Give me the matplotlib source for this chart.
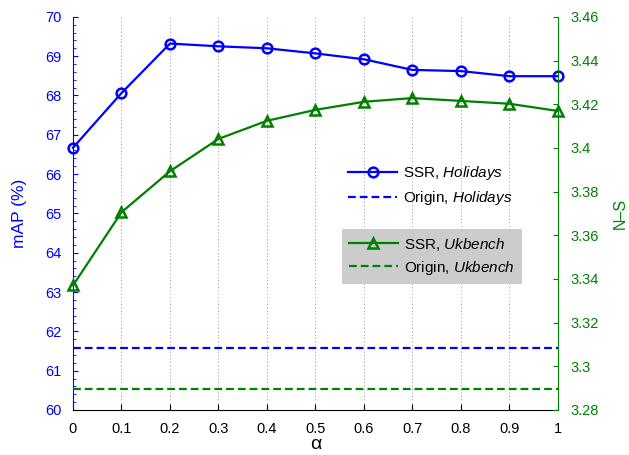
import matplotlib.pyplot as plt
from matplotlib.ticker import MultipleLocator, AutoMinorLocator

plt.rcParams['font.family'] = ['Liberation Sans', 'DejaVu Sans']
plt.rcParams['mathtext.fontset'] = 'custom'
plt.rcParams['mathtext.it'] = 'Liberation Sans:italic'
plt.rcParams['mathtext.rm'] = 'Liberation Sans'

ALPHA = [0, 0.1, 0.2, 0.3, 0.4, 0.5, 0.6, 0.7, 0.8, 0.9, 1.0]
ALPHA_LABELS = ['0', '0.1', '0.2', '0.3', '0.4', '0.5', '0.6', '0.7', '0.8', '0.9', '1']
SSR_HOLIDAYS = [66.67, 68.06, 69.32, 69.25, 69.20, 69.07, 68.92, 68.65, 68.62, 68.49, 68.49]
ORIGIN_HOLIDAYS = 61.57
SSR_UKBENCH = [3.337, 3.3705, 3.3893, 3.4041, 3.4124, 3.4174, 3.4211, 3.4228, 3.4215, 3.4202, 3.4169]
ORIGIN_UKBENCH = 3.2898
NS_TICKS = [3.28, 3.30, 3.32, 3.34, 3.36, 3.38, 3.40, 3.42, 3.44, 3.46]
NS_LABELS = ['3.28', '3.3', '3.32', '3.34', '3.36', '3.38', '3.4', '3.42', '3.44', '3.46']

BLUE = '#0000ff'
GREEN = '#008000'
DASH = (3.5, 1.8)


def main() -> None:
    fig = plt.figure(figsize=(6.29, 4.55), dpi=100)
    ax1 = fig.add_axes([0.116, 0.099, 0.771, 0.864])
    ax2 = ax1.twinx()

    l1, = ax1.plot(ALPHA, SSR_HOLIDAYS, '-o', color=BLUE, lw=1.6, ms=7,
                   mfc='none', mew=1.8, label='SSR, $\\it{Holidays}$')
    l2, = ax1.plot(ALPHA, [ORIGIN_HOLIDAYS] * len(ALPHA), '--', dashes=DASH, color=BLUE,
                   lw=1.6, label='Origin, $\\it{Holidays}$')
    l3, = ax2.plot(ALPHA, SSR_UKBENCH, '-^', color=GREEN, lw=1.6, ms=7,
                   mfc='none', mew=1.8, label='SSR, $\\it{Ukbench}$')
    l4, = ax2.plot(ALPHA, [ORIGIN_UKBENCH] * len(ALPHA), '--', dashes=DASH, color=GREEN,
                   lw=1.6, label='Origin, $\\it{Ukbench}$')
    for ln in (l1, l3):
        ln.set_clip_on(False)

    ax1.set_xlim(0, 1)
    ax1.set_ylim(60, 70)
    ax2.set_ylim(3.28, 3.46)
    ax1.set_xticks(ALPHA)
    ax1.set_xticklabels(ALPHA_LABELS)
    ax1.yaxis.set_major_locator(MultipleLocator(1))
    ax1.yaxis.set_minor_locator(AutoMinorLocator(5))
    ax2.set_yticks(NS_TICKS)
    ax2.set_yticklabels(NS_LABELS)

    ax1.grid(axis='x', color='#999999', ls=(0, (1, 2.5)), lw=0.7)
    ax1.tick_params(axis='x', direction='in', length=4, labelsize=10.5, pad=9)
    ax1.tick_params(axis='y', which='both', direction='in', colors=BLUE, labelsize=10.5, pad=8)
    ax1.tick_params(axis='y', which='minor', length=2)
    ax2.tick_params(axis='y', direction='in', colors=GREEN, labelsize=10.5, pad=9)

    for ax in (ax1, ax2):
        ax.spines['top'].set_visible(False)
    ax1.spines['left'].set_color(BLUE)
    ax2.spines['left'].set_visible(False)
    ax2.spines['right'].set_color(GREEN)
    ax1.spines['right'].set_visible(False)
    ax2.spines['bottom'].set_visible(False)

    ax1.set_xlabel('α', fontsize=14, labelpad=0)
    ax1.set_ylabel('mAP (%)', color=BLUE, fontsize=12.5, labelpad=13)
    ax2.set_ylabel('N–S', color=GREEN, fontsize=11.5, labelpad=10)

    leg1 = ax2.legend(handles=[l1, l2], loc='upper left', bbox_to_anchor=(0.555, 0.64),
                      frameon=False, fontsize=11, handlelength=3.2, handletextpad=0.4,
                      labelspacing=0.45, borderaxespad=0)
    ax2.add_artist(leg1)
    ax2.legend(handles=[l3, l4], loc='upper left', bbox_to_anchor=(0.555, 0.461),
               fancybox=False, facecolor='#cccccc', edgecolor='none', framealpha=1,
               fontsize=11, handlelength=3.2, handletextpad=0.4, labelspacing=0.4,
               borderaxespad=0, borderpad=0.45)

    fig.savefig('out.png', dpi=100)


if __name__ == '__main__':
    main()
